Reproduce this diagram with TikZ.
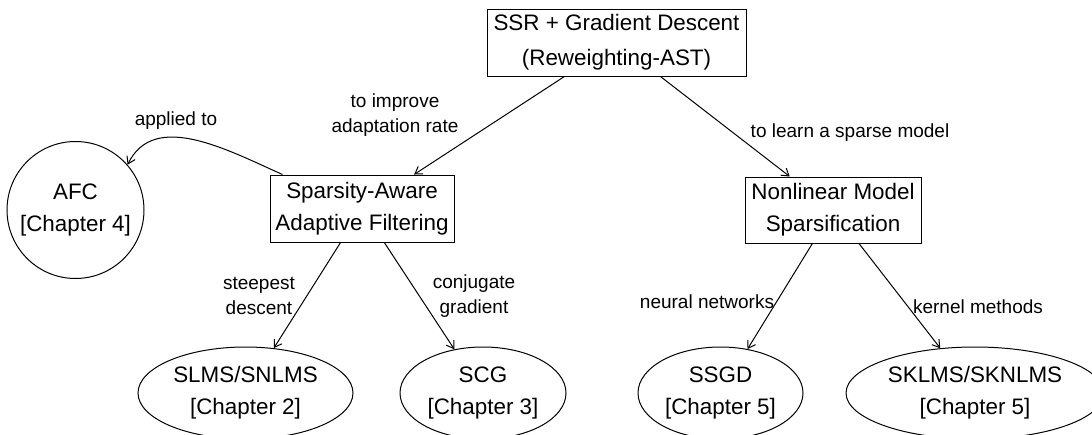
\documentclass[tikz,border=0pt]{standalone}
\usepackage{fontspec}
\setmainfont{Liberation Sans}
\usetikzlibrary{arrows.meta,shapes.geometric,positioning}

\begin{document}
\begin{tikzpicture}[
  x=0.5pt, y=-0.5pt,
  box/.style={draw, align=center, font=\fontsize{11.2}{16}\selectfont,
              inner sep=0pt, line width=0.5pt},
  rbox/.style={box, rectangle},
  circ/.style={box, circle, minimum size=68.5pt},
  oval/.style={box, ellipse, minimum height=46pt},
  arr/.style={-{Straight Barb[length=3.5pt,width=4.5pt]}, line width=0.5pt},
  ann/.style={font=\fontsize{9.5}{12.5}\selectfont, align=center},
]
\useasboundingbox (0,0) rectangle (1092,434);
\clip (0,0) rectangle (1092,434);

\node[rbox, minimum width=129.5pt, minimum height=33.5pt, font=\fontsize{11.2}{17.5}\selectfont] (ssr) at (616.5,42.5) {SSR + Gradient Descent\\(Reweighting-AST)};
\node[rbox, minimum width=92pt, minimum height=33.5pt] (saf) at (362,208.5) {Sparsity-Aware\\Adaptive Filtering};
\node[rbox, minimum width=88pt, minimum height=33pt] (nms) at (833,210) {Nonlinear Model\\Sparsification};
\node[circ] (afc) at (75.5,210) {AFC\\{[Chapter 4]}};

\node[oval, minimum width=107.5pt] (slms) at (245.5,393) {SLMS/SNLMS\\{[Chapter 2]}};
\node[oval, minimum width=83pt] (scg) at (483,393) {SCG\\{[Chapter 3]}};
\node[oval, minimum width=82.5pt] (ssgd) at (720.5,393) {SSGD\\{[Chapter 5]}};
\node[oval, minimum width=129pt] (sklms) at (975,393) {SKLMS/SKNLMS\\{[Chapter 5]}};

% labels
\node[ann] (lblapp) at (176,121) {applied to};
\node[ann] (lblrate) at (395,115) {to improve\\adaptation rate};
\node[ann] (lblsparse) at (850,133) {to learn a sparse model};
\node[ann] (lblsteep) at (259,296) {steepest\\descent};
\node[ann] (lblconj) at (474,296) {conjugate\\gradient};
\node[ann] (lblneural) at (707,302) {neural networks};
\node[ann] (lblkernel) at (978,307) {kernel methods};

\draw[arr] (ssr) -- (saf);
\draw[arr] (ssr) -- (nms);
\draw[arr] ([xshift=6.5pt]saf.north west) to[out=156,in=64] (afc.41);
\draw[arr] (saf) -- (slms);
\draw[arr] (saf) -- (scg);
\draw[arr] (nms) -- (ssgd);
\draw[arr] (nms) -- (sklms);
\end{tikzpicture}
\end{document}
